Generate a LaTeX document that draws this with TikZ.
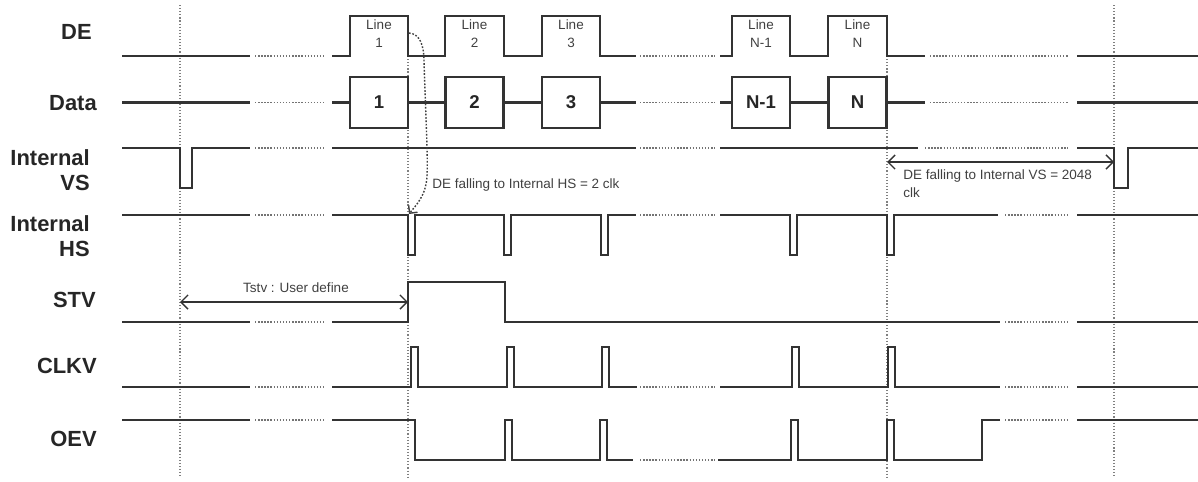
\documentclass[tikz,border=0pt]{standalone}
\usepackage{fontspec}
\setmainfont{Liberation Sans}
\usetikzlibrary{arrows.meta}
\tikzset{
	sig/.style={line width=1.5pt,draw=black!80},
	dotgap/.style={line width=1pt,draw=black!55,dash pattern=on 1pt off 1.2pt},
	guide/.style={line width=0.9pt,draw=black!50,dash pattern=on 0.8pt off 1.4pt},
	lbl/.style={font=\fontsize{15.6}{17.7}\selectfont\bfseries,text=black!85,align=right,anchor=east,inner sep=0pt},
	note/.style={font=\fontsize{9.6}{12.8}\selectfont,text=black!75,inner sep=0pt},
	databox/.style={draw=black!80,line width=1.5pt,minimum width=1.45cm,minimum height=1.275cm,inner sep=0pt,font=\fontsize{13.2}{15}\selectfont\bfseries,text=black!85},
	dimarrow/.style={line width=1pt,draw=black!80,{Straight Barb[length=5pt,width=10pt]}-{Straight Barb[length=5pt,width=10pt]}},
	curvearrow/.style={line width=1pt,draw=black!75,dash pattern=on 1.2pt off 1.2pt,-{Straight Barb[length=4pt,width=8pt]}}
}
\begin{document}
\begin{tikzpicture}[x=0.025cm,y=-0.025cm]
	\useasboundingbox (0,0) rectangle (1198,481);
	\node[lbl] (de) at (92,32) {DE};
	\node[lbl] (data) at (97,103) {Data};
	\node[lbl] (vs) at (90,170) {Internal\\VS};
	\node[lbl] (hs) at (90,236) {Internal\\HS};
	\node[lbl] (stv) at (96,300) {STV};
	\node[lbl] (clkv) at (97,366) {CLKV};
	\node[lbl] (oev) at (97,439) {OEV};
	\foreach \xcoord/\ystart in {180/5,408/56,887/56,1114/5} \draw[guide] (\xcoord,\ystart) to (\xcoord,478);
	\foreach \ycoord in {56,102.5,148,215,322,387,420} \draw[dotgap] (255,\ycoord) to (325,\ycoord);
	\foreach \ycoord in {56,102.5,148,215,387,460} \draw[dotgap] (640,\ycoord) to (715,\ycoord);
	\foreach \ycoord/\xstart in {56/930,102.5/930,148/925,215/1005,322/1005,387/1005,420/1005} \draw[dotgap] (\xstart,\ycoord) to (1068,\ycoord);
	\foreach \ycoord in {56,102.5,215,322,387,420} {
		\draw[sig] (122,\ycoord) to (250,\ycoord);
		\draw[sig] (1077,\ycoord) to (1198,\ycoord);
	}
	\draw[sig] (332,56) -| (350,16) -| (408,56) -| (445,16) -| (504,56) -| (542,16) -| (600,56) to (636,56);
	\draw[sig] (720,56) -| (732,16) -| (790,56) -| (828,16) -| (887,56) to (925,56);
	\foreach \xcoord/\num [count=\k] in {379/1,474.5/2,571/3,761/N-1,857.5/N} {
		\node[note,align=center] (line\k) at (\xcoord,34) {Line\\\num};
		\node[databox] (data\k) at (\xcoord,102.5) {\num};
	}
	\draw[sig] (332,102.5) to (data1.west);
	\draw[sig] (data1.east) to (data2.west);
	\draw[sig] (data2.east) to (data3.west);
	\draw[sig] (data3.east) to (636,102.5);
	\draw[sig] (720,102.5) to (data4.west);
	\draw[sig] (data4.east) to (data5.west);
	\draw[sig] (data5.east) to (925,102.5);
	\draw[sig] (122,148) -| (180,188) -| (192,148) to (250,148);
	\draw[sig] (332,148) to (636,148);
	\draw[sig] (720,148) to (918,148);
	\draw[sig] (1077,148) -| (1114,188) -| (1128,148) to (1198,148);
	\draw[sig] (332,215) -| (408,255) -| (415,215) -| (504,255) -| (511,215) -| (601,255) -| (608,215) to (636,215);
	\draw[sig] (720,215) -| (790,255) -| (797,215) -| (887,255) -| (894,215) to (998,215);
	\draw[sig] (332,322) -| (408,282) -| (505,322) to (1000,322);
	\draw[sig] (332,387) -| (411,347) -| (418,387) -| (507,347) -| (514,387) -| (602,347) -| (609,387) to (637,387);
	\draw[sig] (720,387) -| (792,347) -| (799,387) -| (888,347) -| (895,387) to (1000,387);
	\draw[sig] (332,420) -| (415,460) -| (505,420) -| (512,460) -| (600,420) -| (607,460) to (633,460);
	\draw[sig] (718,460) -| (791,420) -| (798,460) -| (887,420) -| (894,460) -| (982,420) to (1000,420);
	\coordinate (defall) at (409,33);
	\coordinate (hsfall) at (409,214);
	\draw[curvearrow] (defall) .. controls (420,34) and (424,45) .. (424,62) .. controls (426,120) and (428,160) .. (427,176) .. controls (426,196) and (416,205) .. (hsfall);
	\node[note,anchor=west] (hsnote) at (432,185) {DE falling to Internal HS = 2 clk};
	\coordinate (tstvA) at (180,302);
	\coordinate (tstvB) at (408,302);
	\draw[dimarrow] (tstvA) to (tstvB);
	\node[note] (tstv) at (296,288) {Tstv : User define};
	\coordinate (vsA) at (887,162);
	\coordinate (vsB) at (1114,162);
	\draw[dimarrow] (vsA) to (vsB);
	\node[note,align=left,anchor=west] (vsnote) at (903,184) {DE falling to Internal VS = 2048\\clk};
\end{tikzpicture}
\end{document}
